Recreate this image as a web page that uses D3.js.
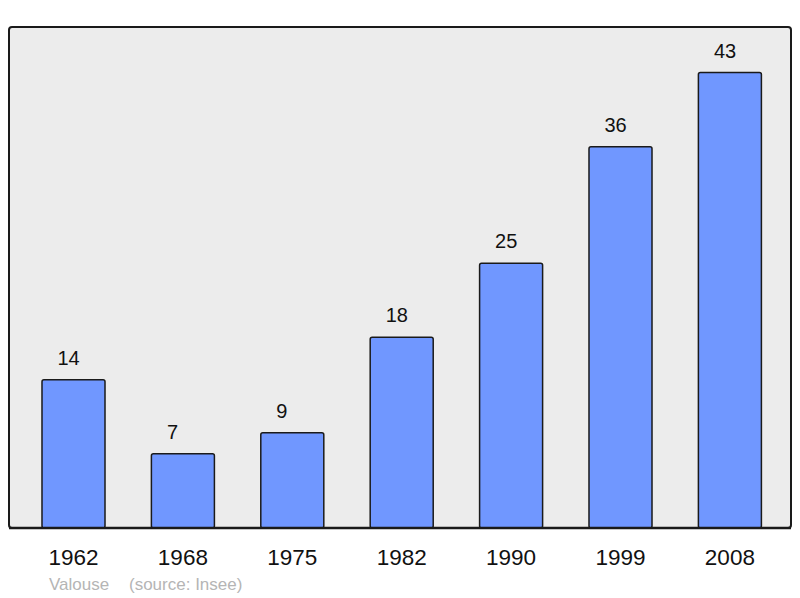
<!DOCTYPE html>
<html>
<head>
<meta charset="utf-8">
<script src="https://cdn.jsdelivr.net/npm/d3@7"></script>
<style>
html,body{margin:0;padding:0;background:#fff;}
svg{display:block;font-family:"Liberation Sans",Arial,sans-serif;}
</style>
</head>
<body>
<svg id="chart" width="800" height="598"></svg>
<script>
const years = ["1962","1968","1975","1982","1990","1999","2008"];
const population = [14, 7, 9, 18, 25, 36, 43];
const commune = "Valouse";
const source = "(source: Insee)";

const svg = d3.select("#chart");
const panel = {x0: 9, x1: 791, y0: 27, y1: 528};

const x = d3.scaleBand().domain(years).range([18.8, 784.6]).paddingInner(0.424).paddingOuter(0.212);
const y = d3.scaleLinear().domain([0, 47.3]).range([panel.y1, panel.y0]);

svg.append("rect")
  .attr("x", panel.x0).attr("y", panel.y0)
  .attr("width", panel.x1 - panel.x0).attr("height", panel.y1 - panel.y0)
  .attr("rx", 3).attr("ry", 3)
  .attr("fill", "#ececec").attr("stroke", "#1a1a1a").attr("stroke-width", 2);

const data = years.map((yr, i) => ({year: yr, value: population[i]}));

svg.selectAll("rect.bar").data(data).enter().append("rect")
  .attr("class", "bar")
  .attr("x", d => x(d.year))
  .attr("y", d => y(d.value))
  .attr("width", x.bandwidth())
  .attr("height", d => y(0) - y(d.value))
  .attr("rx", 2).attr("ry", 2)
  .attr("fill", "#7097ff").attr("stroke", "#1a1a1a").attr("stroke-width", 1.5);

svg.append("line")
  .attr("x1", panel.x0).attr("x2", panel.x1)
  .attr("y1", panel.y1).attr("y2", panel.y1)
  .attr("stroke", "#1a1a1a").attr("stroke-width", 2.5);

svg.selectAll("text.val").data(data).enter().append("text")
  .attr("class", "val")
  .attr("x", d => x(d.year) + 15.5)
  .attr("y", d => y(d.value) - 15)
  .attr("font-size", 20)
  .attr("fill", "#111")
  .text(d => d.value);

svg.selectAll("text.year").data(data).enter().append("text")
  .attr("class", "year")
  .attr("x", d => x(d.year) + x.bandwidth() / 2)
  .attr("y", 564.5)
  .attr("text-anchor", "middle")
  .attr("font-size", 22.5)
  .attr("fill", "#111")
  .text(d => d.year);

svg.append("text").attr("x", 49).attr("y", 590)
  .attr("font-size", 17).attr("fill", "#b5b5b5").text(commune);
svg.append("text").attr("x", 129).attr("y", 590)
  .attr("font-size", 17).attr("fill", "#b5b5b5").text(source);
</script>
</body>
</html>
